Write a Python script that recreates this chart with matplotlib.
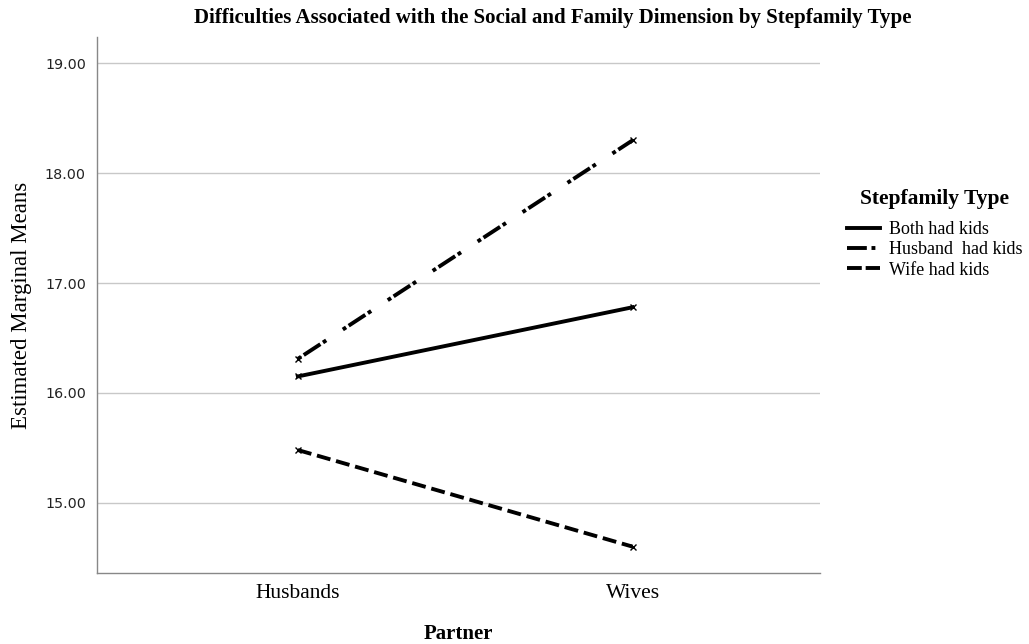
import numpy as np
import matplotlib.pyplot as plt
from matplotlib.lines import Line2D

partners = ['Husbands', 'Wives']
both_had_kids = [16.15, 16.78]
husband_had_kids = [16.31, 18.30]
wife_had_kids = [15.48, 14.60]
series_names = ['Both had kids', 'Husband  had kids', 'Wife had kids']
y_ticks = [15, 16, 17, 18, 19]

serif = 'Liberation Serif'

fig = plt.figure(figsize=(10.29, 6.44), dpi=100)
ax = fig.add_axes([0.0943, 0.1102, 0.7027, 0.8323])

x = np.arange(len(partners))
# line styles on the plot and the (slightly different) look in the legend
styles = ['-', (0, (1, 0.8, 5.1, 0.8, 1, 5.1)), (0, (3.6, 1.5))]
leg_styles = ['-', (0, (5.1, 1.2, 1, 5.1)), (0, (3.8, 1.0))]
handles = []
for vals, name, ls, lls in zip([both_had_kids, husband_had_kids, wife_had_kids], series_names, styles, leg_styles):
    ax.plot(x, vals, color='black', lw=2.8, linestyle=ls, marker='x', markersize=5,
            markeredgewidth=1)
    handles.append(Line2D([], [], color='black', lw=2.8, linestyle=lls, label=name))

ax.set_xlim(-0.6, 1.56)
ax.set_ylim(14.36, 19.24)
ax.set_yticks(y_ticks)
ax.set_yticklabels([f'{v:.2f}' for v in y_ticks], fontsize=10.3, family='DejaVu Sans', color='#222222')
ax.set_xticks(x)
ax.set_xticklabels(partners, fontsize=15.5, family=serif)
ax.tick_params(length=0, pad=8)
ax.tick_params(axis='x', pad=8)
ax.yaxis.grid(True, color='#c8c8c8', lw=1)
ax.set_axisbelow(True)
for s in ['top', 'right']:
    ax.spines[s].set_visible(False)
for s in ['left', 'bottom']:
    ax.spines[s].set_color('#888888')
    ax.spines[s].set_linewidth(1)

ax.set_ylabel('Estimated Marginal Means', fontsize=16.5, family=serif, labelpad=9)
ax.set_xlabel('Partner', fontsize=15, family=serif, fontweight='bold', labelpad=15)
fig.text(0.537, 0.972, 'Difficulties Associated with the Social and Family Dimension by Stepfamily Type',
         ha='center', va='center', fontsize=15, family=serif, fontweight='bold')

leg = ax.legend(handles=handles, loc='upper left', bbox_to_anchor=(1.025, 0.734), frameon=False,
                prop={'family': serif, 'size': 13}, handlelength=1.8, handletextpad=0.5,
                labelspacing=0.18, borderpad=0)
leg.set_title('Stepfamily Type', prop={'family': serif, 'size': 15.5, 'weight': 'bold'})
leg._legend_box.sep = 9

fig.savefig('out.png', dpi=100)
